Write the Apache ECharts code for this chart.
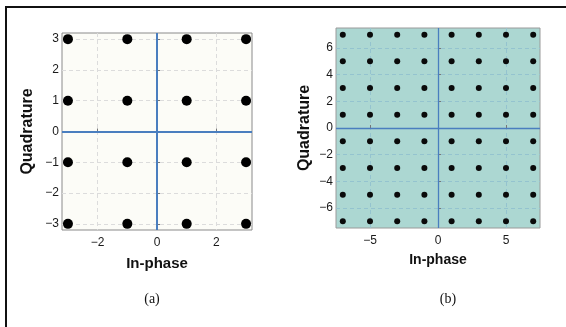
<!DOCTYPE html>
<html>
<head>
<meta charset="utf-8">
<script src="https://cdn.jsdelivr.net/npm/echarts@6/dist/echarts.min.js"></script>
<style>
  html, body { margin: 0; padding: 0; background: #fff; }
  #chart { width: 566px; height: 327px; }
</style>
</head>
<body>
<div id="chart"></div>
<script>
// constellation levels (per axis)
const levels16 = [-3, -1, 1, 3];
const levels64 = [-7, -5, -3, -1, 1, 3, 5, 7];
// tick labels
const xTicksA = [-2, 0, 2];
const yTicksA = [-3, -2, -1, 0, 1, 2, 3];
const xTicksB = [-5, 0, 5];
const yTicksB = [-6, -4, -2, 0, 2, 4, 6];

function grid(levels) {
  let pts = [];
  for (let i = 0; i < levels.length; i++) {
    for (let j = 0; j < levels.length; j++) {
      pts.push([levels[i], levels[j]]);
    }
  }
  return pts;
}

const minus = v => String(v).replace("-", "\u2212");

function makeAxis(idx, dim, lim, ticks, splitColor) {
  return {
    type: "value",
    gridIndex: idx,
    min: -lim,
    max: lim,
    axisLine: { show: false },
    axisTick: { show: true, inside: true, length: 3, customValues: ticks, lineStyle: { color: "#777" } },
    axisLabel: {
      customValues: ticks,
      formatter: minus,
      color: "#1a1a1a",
      fontSize: 12,
      fontFamily: "Liberation Sans",
      margin: dim === "x" ? 7 : 3
    },
    splitLine: { show: true, lineStyle: { color: splitColor, type: [4, 3], width: 1 } }
  };
}

let chart = echarts.init(document.getElementById("chart"));
let option = {
  animation: false,
  grid: [
    { left: 62, top: 33, width: 190, height: 197, show: true, backgroundColor: "#fcfcf7", borderColor: "#8a8a8a", borderWidth: 1 },
    { left: 336, top: 28, width: 204, height: 200, show: true, backgroundColor: "#acd7d2", borderColor: "#9a9a9a", borderWidth: 1 }
  ],
  xAxis: [
    Object.assign(makeAxis(0, "x", 3.2, xTicksA, "#dcdcdc"), {
      name: "In-phase", nameLocation: "middle", nameGap: 26,
      nameTextStyle: { fontSize: 15, fontWeight: "bold", color: "#111", fontFamily: "Liberation Sans" }
    }),
    Object.assign(makeAxis(1, "x", 7.5, xTicksB, "#94c3cf"), {
      name: "In-phase", nameLocation: "middle", nameGap: 25,
      nameTextStyle: { fontSize: 14, fontWeight: "bold", color: "#111", fontFamily: "Liberation Sans" }
    })
  ],
  yAxis: [
    Object.assign(makeAxis(0, "y", 3.2, yTicksA, "#dcdcdc"), {
      name: "Quadrature", nameLocation: "middle", nameGap: 26,
      nameTextStyle: { fontSize: 16, fontWeight: "bold", color: "#111", fontFamily: "Liberation Sans" }
    }),
    Object.assign(makeAxis(1, "y", 7.5, yTicksB, "#94c3cf"), {
      name: "Quadrature", nameLocation: "middle", nameGap: 23,
      nameTextStyle: { fontSize: 16, fontWeight: "bold", color: "#111", fontFamily: "Liberation Sans" }
    })
  ],
  title: [
    { text: "(a)", left: 147, top: 287, textAlign: "center", textStyle: { fontFamily: "Liberation Serif", fontWeight: "normal", fontSize: 14, color: "#111" } },
    { text: "(b)", left: 443, top: 287, textAlign: "center", textStyle: { fontFamily: "Liberation Serif", fontWeight: "normal", fontSize: 14, color: "#111" } }
  ],
  graphic: [
    { type: "rect", shape: { x: 6, y: 7, width: 600, height: 400 }, style: { fill: null, stroke: "#111", lineWidth: 2 }, silent: true }
  ],
  series: [
    {
      type: "scatter", xAxisIndex: 0, yAxisIndex: 0,
      data: grid(levels16), symbolSize: 10,
      itemStyle: { color: "#000", opacity: 1 },
      markLine: {
        silent: true, symbol: "none", label: { show: false },
        lineStyle: { color: "#4a7ebf", width: 2, type: "solid" },
        data: [{ xAxis: 0 }, { yAxis: 0 }]
      }
    },
    {
      type: "scatter", xAxisIndex: 1, yAxisIndex: 1,
      data: grid(levels64), symbolSize: 6,
      itemStyle: { color: "#0a0a0a", opacity: 1 },
      markLine: {
        silent: true, symbol: "none", label: { show: false },
        lineStyle: { color: "#4a7ebf", width: 1.3, type: "solid" },
        data: [{ xAxis: 0 }, { yAxis: 0 }]
      }
    }
  ]
};
chart.setOption(option);
</script>
</body>
</html>
